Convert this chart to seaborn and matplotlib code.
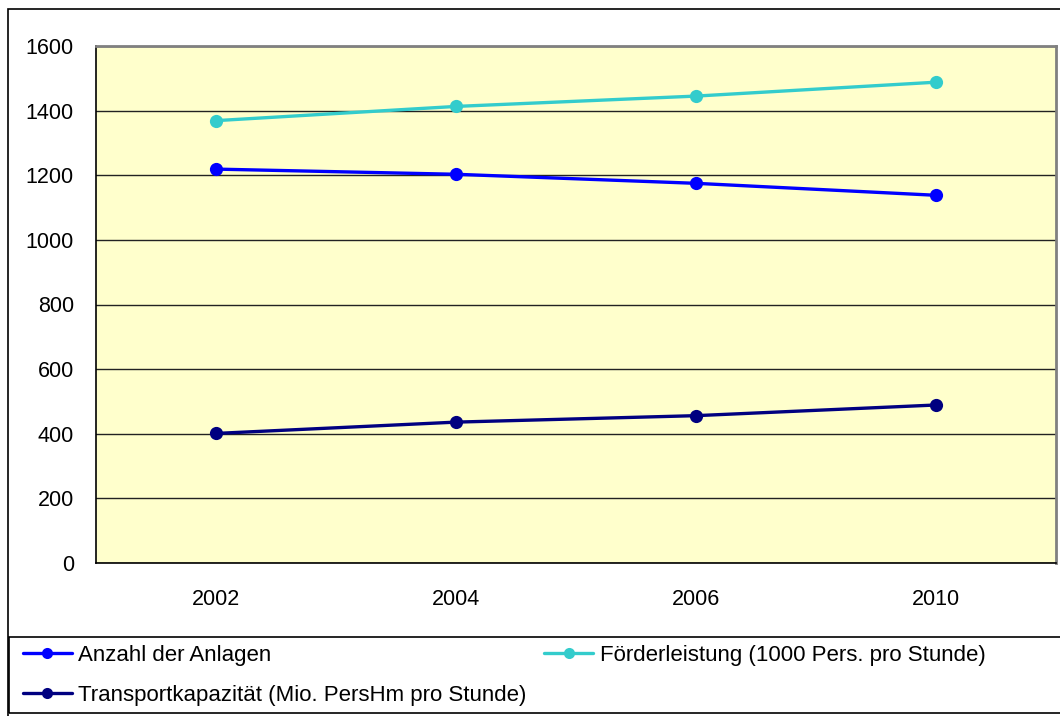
import numpy as np
import pandas as pd
import matplotlib
matplotlib.use("Agg")
import matplotlib.pyplot as plt
import seaborn as sns
from matplotlib.lines import Line2D
from matplotlib.patches import Rectangle

jahre = ['2002', '2004', '2006', '2010']
anzahl = [1219, 1203, 1175, 1138]
foerder = [1369, 1413, 1445, 1488]
transport = [401, 436, 456, 489]

namen = ['Anzahl der Anlagen',
         'Förderleistung (1000 Pers. pro Stunde)',
         'Transportkapazität (Mio. PersHm pro Stunde)']
farben = {namen[0]: '#0000FF', namen[1]: '#33CCCC', namen[2]: '#000080'}

df = pd.DataFrame({'Jahr': jahre * 3,
                   'Wert': anzahl + foerder + transport,
                   'Reihe': [namen[0]] * 4 + [namen[1]] * 4 + [namen[2]] * 4})

sns.set_style('white')
plt.rcParams['font.family'] = ['Liberation Sans', 'DejaVu Sans']
plt.rcParams['text.color'] = 'black'
plt.rcParams['xtick.color'] = 'black'
plt.rcParams['ytick.color'] = 'black'

W, H = 1060, 716
fig = plt.figure(figsize=(W / 100, H / 100), dpi=100)
# aeusserer Rahmen und Rahmen der Legende
fig.patches.append(Rectangle((8 / W, -0.1), 1.1, 1.1 - 9 / H,
                             transform=fig.transFigure, fill=False,
                             edgecolor='black', linewidth=1.2))
fig.patches.append(Rectangle((9 / W, 1 - 713 / H), 1.1, 76 / H,
                             transform=fig.transFigure, fill=False,
                             edgecolor='black', linewidth=1.2))

ax = fig.add_axes([96 / W, 1 - 563 / H, 960 / W, 517 / H])
ax.set_facecolor('#FFFFCC')

sns.lineplot(data=df, x='Jahr', y='Wert', hue='Reihe', palette=farben,
             marker='o', markersize=9.5, markeredgewidth=0, linewidth=2.4,
             sort=False, legend=False, ax=ax, zorder=3)

ax.set_xlim(-0.5, 3.5)
ax.set_ylim(0, 1600)
ax.set_yticks(np.arange(0, 1601, 200))
ax.yaxis.grid(True, color='#222222', linewidth=1)
ax.set_axisbelow(True)
ax.set_xticks(range(4))
ax.set_xticklabels(jahre)
ax.set_xticks([-0.5, 0.5, 1.5, 2.5, 3.5], minor=True)
ax.tick_params(axis='x', which='major', length=0, pad=19, labelsize=15.5)
ax.tick_params(axis='x', which='minor', length=7, width=1, direction='out')
ax.tick_params(axis='y', length=8, width=1, direction='out', pad=8, labelsize=15.5)
ax.set_xlabel('')
ax.set_ylabel('')
for s in ['left', 'bottom']:
    ax.spines[s].set_color('black')
    ax.spines[s].set_linewidth(1.2)
for s in ['top', 'right']:
    ax.spines[s].set_color('#808080')
    ax.spines[s].set_linewidth(2)

handles = [Line2D([], [], color=farben[n], marker='o', markersize=8,
                  markeredgewidth=0, linewidth=2.4, label=n)
           for n in [namen[0], namen[2], namen[1]]]
leg = fig.legend(handles=handles, loc='upper left', ncol=2,
                 bbox_to_anchor=(15 / W, 1 - 637 / H),
                 frameon=False, fontsize=16,
                 handlelength=2.2, handletextpad=0.3, borderaxespad=0,
                 borderpad=0.35, labelspacing=0.85, columnspacing=0.8)

fig.savefig('out.png', dpi=100)
